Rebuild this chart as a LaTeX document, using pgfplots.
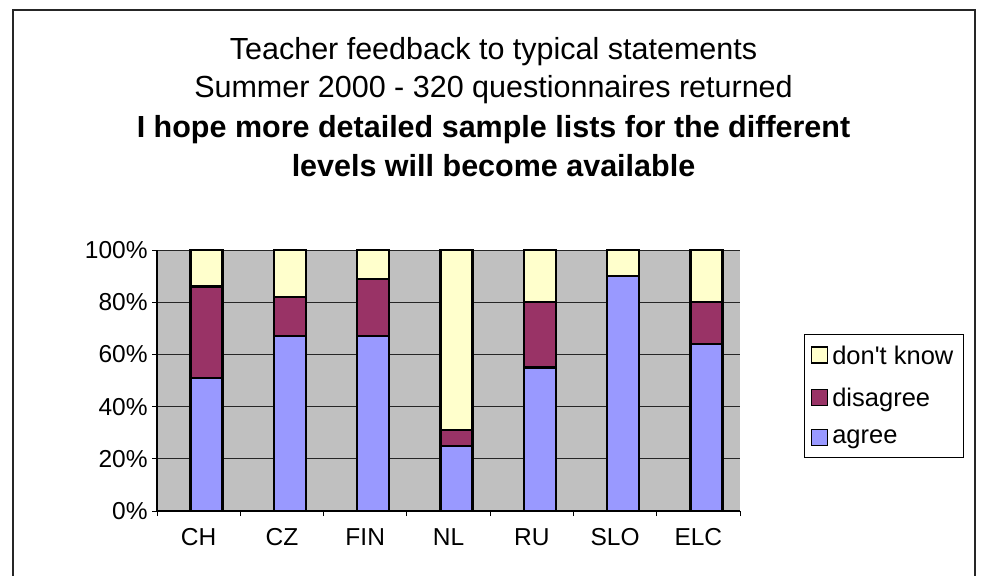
\documentclass[border=0pt]{standalone}
\usepackage{fontspec}
\setmainfont{Liberation Sans}[Ligatures=TeXOff]
\usepackage{pgfplots}
\pgfplotsset{compat=1.18}
\definecolor{agree}{HTML}{9999FF}
\definecolor{disagree}{HTML}{993366}
\definecolor{dunno}{HTML}{FFFFCC}
\definecolor{wall}{HTML}{C0C0C0}
\begin{document}
\begin{tikzpicture}
\useasboundingbox (0,0) rectangle (490.5pt,287.5pt);
\fill[white] (0,0) rectangle (490.5pt,287.5pt);
\draw[black!85, line width=1pt] (6.35pt,-5pt) -- (6.35pt,282.5pt) -- (487.5pt,282.5pt) -- (487.5pt,-5pt);
\node[anchor=base, font=\fontsize{15.25}{18}\selectfont] at (246.75pt,258pt) {Teacher feedback to typical statements};
\node[anchor=base, font=\fontsize{15.25}{18}\selectfont] at (246.75pt,239pt) {Summer 2000 - 320 questionnaires returned};
\node[anchor=base, font=\fontsize{15.25}{18}\selectfont\bfseries] at (246.75pt,219pt) {I hope more detailed sample lists for the different};
\node[anchor=base, font=\fontsize{15.25}{18}\selectfont\bfseries] at (246.75pt,199.5pt) {levels will become available};
\begin{axis}[
  at={(78.5pt,32pt)}, anchor=south west, scale only axis,
  width=291.5pt, height=130.5pt,
  ybar stacked, bar width=16pt, bar shift=4pt,
  xmin=-0.5, xmax=6.5, ymin=0, ymax=100,
  clip=false,
  axis background/.style={fill=wall},
  axis x line*=bottom, axis y line*=left,
  axis line style={black, line width=0.6pt},
  tick align=outside, major tick length=2.5pt,
  tick style={black, line width=0.5pt},
  xtick={-0.5,0.5,1.5,2.5,3.5,4.5,5.5,6.5},
  x tick label as interval,
  xticklabels={CH,CZ,FIN,NL,RU,SLO,ELC},
  ytick={0,20,40,60,80,100},
  yticklabel={\pgfmathprintnumber{\tick}\%},
  /pgf/number format/assume math mode=true,
  ticklabel style={font=\fontsize{12.25}{14}\selectfont},
  yticklabel style={inner sep=2pt},
  xticklabel style={inner sep=2pt, yshift=-4pt},
  ymajorgrids, major grid style={black!85, line width=0.5pt},
  every axis plot/.append style={draw=black, line width=1.2pt},
  legend image code/.code={\draw[#1, line width=0.9pt] (0pt,-3.5pt) rectangle (8pt,4.5pt);},
  reverse legend,
  legend style={at={(1.1098,0.678)}, anchor=north west, draw=black, line width=0.5pt,
    font=\fontsize{12.75}{15}\selectfont, row sep=6.4pt, inner xsep=3pt, inner ysep=3.5pt,
    cells={anchor=west}},
]
\addplot[fill=agree] coordinates {(0,51) (1,67) (2,67) (3,25) (4,55) (5,90) (6,64)};
\addplot[fill=disagree] coordinates {(0,35) (1,15) (2,22) (3,6) (4,25) (5,0) (6,16)};
\addplot[fill=dunno] coordinates {(0,14) (1,18) (2,11) (3,69) (4,20) (5,10) (6,20)};
\legend{agree, disagree, don't know}
\end{axis}
\end{tikzpicture}
\end{document}
